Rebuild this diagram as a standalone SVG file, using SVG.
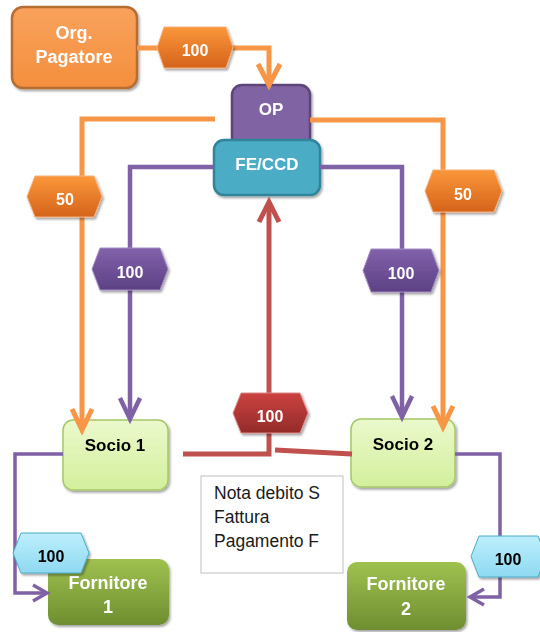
<svg xmlns="http://www.w3.org/2000/svg" width="540" height="632" viewBox="0 0 540 632">
<defs>
<linearGradient id="gOrg" x1="0" y1="0" x2="0" y2="1"><stop offset="0" stop-color="#F9A25C"/><stop offset="1" stop-color="#F48F3E"/></linearGradient>
<linearGradient id="gSocio" x1="0" y1="0" x2="0" y2="1"><stop offset="0" stop-color="#EBF9CC"/><stop offset="1" stop-color="#D3EF9C"/></linearGradient>
<linearGradient id="gForn" x1="0" y1="0" x2="0" y2="1"><stop offset="0" stop-color="#9FC14F"/><stop offset="1" stop-color="#6E8E30"/></linearGradient>
<linearGradient id="hOr" x1="0" y1="0" x2="0" y2="1"><stop offset="0" stop-color="#FA973A"/><stop offset="1" stop-color="#D5631B"/></linearGradient>
<linearGradient id="hPu" x1="0" y1="0" x2="0" y2="1"><stop offset="0" stop-color="#8261AA"/><stop offset="1" stop-color="#5C4184"/></linearGradient>
<linearGradient id="hRe" x1="0" y1="0" x2="0" y2="1"><stop offset="0" stop-color="#CB4240"/><stop offset="1" stop-color="#932B29"/></linearGradient>
<linearGradient id="hLb" x1="0" y1="0" x2="0" y2="1"><stop offset="0" stop-color="#BDEFFC"/><stop offset="1" stop-color="#8ED9F1"/></linearGradient>
<filter id="sh" x="-10%" y="-10%" width="130%" height="140%"><feDropShadow dx="1.5" dy="2" stdDeviation="1.2" flood-color="#000" flood-opacity="0.35"/></filter>
</defs>
<style>
.t{font-family:"Liberation Sans",Arial,sans-serif;font-weight:bold;text-anchor:middle}
.w{fill:#fff}
.k{fill:#000}
.ln{fill:none;stroke-linejoin:miter}
.or{stroke:#F79646;stroke-width:5}
.pu{stroke:#7F62A5;stroke-width:4.5}
.pu2{stroke:#7F62A5;stroke-width:3.5}
.re{stroke:#C0504D;stroke-width:5}
.nota{font-family:"Liberation Sans",Arial,sans-serif;font-size:17.5px;fill:#1a1a1a}
</style>

<g id="org-pagatore" filter="url(#sh)">
<rect x="12" y="7" width="125" height="81" rx="11" fill="url(#gOrg)" stroke="#B66D31" stroke-width="2.5"/>
<text class="t w" x="74" y="39" font-size="18">Org.</text>
<text class="t w" x="74" y="63" font-size="18">Pagatore</text>
</g>

<g id="op" filter="url(#sh)">
<rect x="232" y="85" width="78" height="70" rx="10" fill="#8064A2" stroke="#5C4479" stroke-width="2.5"/>
<text class="t w" x="271" y="115" font-size="17">OP</text>
</g>

<g id="fe-ccd" filter="url(#sh)">
<rect x="214" y="140" width="106" height="55" rx="10" fill="#4BACC6" stroke="#31849B" stroke-width="2.5"/>
<text class="t w" x="267" y="170" font-size="17">FE/CCD</text>
</g>

<g id="socio1" filter="url(#sh)">
<rect x="63" y="420" width="105" height="70" rx="10" fill="url(#gSocio)" stroke="#A5C86A" stroke-width="1.5"/>
<text class="t k" x="115" y="451" font-size="17">Socio 1</text>
</g>

<g id="socio2" filter="url(#sh)">
<rect x="351" y="419" width="104" height="68" rx="10" fill="url(#gSocio)" stroke="#A5C86A" stroke-width="1.5"/>
<text class="t k" x="403" y="450" font-size="17">Socio 2</text>
</g>

<g id="fornitore1" filter="url(#sh)">
<rect x="48" y="559" width="121" height="66" rx="10" fill="url(#gForn)"/>
<text class="t w" x="108" y="589" font-size="18">Fornitore</text>
<text class="t w" x="108" y="613" font-size="18">1</text>
</g>

<g id="fornitore2" filter="url(#sh)">
<rect x="347" y="562" width="119" height="68" rx="10" fill="url(#gForn)"/>
<text class="t w" x="406" y="590" font-size="18">Fornitore</text>
<text class="t w" x="406" y="615" font-size="18">2</text>
</g>

<g id="nota">
<rect x="201" y="476" width="142" height="97" fill="#fff" stroke="#BFBFBF" stroke-width="1"/>
<text class="nota" x="214" y="499">Nota debito S</text>
<text class="nota" x="214" y="523">Fattura</text>
<text class="nota" x="214" y="547">Pagamento F</text>
</g>

<g id="connectors">
<polyline class="ln or" points="137,48 269,48 269,84"/>
<polyline class="ln or" points="258,64 269,85 280,64"/>
<polyline class="ln or" points="215,119 82,119 82,429"/>
<polyline class="ln or" points="72,409 82,430 92,409"/>
<polyline class="ln or" points="310,120 443,120 443,426"/>
<polyline class="ln or" points="433,406 443,427 453,406"/>
<polyline class="ln pu" points="213,167 130,167 130,418"/>
<polyline class="ln pu" points="120,398 130,419 140,398"/>
<polyline class="ln pu" points="320,167 402,167 402,415"/>
<polyline class="ln pu" points="392,396 402,417 412,396"/>
<polyline class="ln pu2" points="63,454 15,454 15,593 46,593"/>
<polyline class="ln pu2" points="33,585 47,593 33,601"/>
<polyline class="ln pu2" points="455,454 500,454 500,597 471,597"/>
<polyline class="ln pu2" points="484,589 470,597 484,605"/>
<polyline class="ln re" points="183,454 269,454 269,204"/>
<polyline class="ln re" points="259,222 269,202 279,222"/>
<line class="ln re" x1="275" y1="450" x2="352" y2="454"/>

<g filter="url(#sh)">
<polygon points="157,47.5 164,27 226,27 233,47.5 226,68 164,68" fill="url(#hOr)" stroke="#F6B27C" stroke-width="1"/>
<text class="t w" x="195" y="56" font-size="16">100</text>
<polygon points="27,196.5 35,176 94,176 102,196.5 94,217 35,217" fill="url(#hOr)" stroke="#F6B27C" stroke-width="1"/>
<text class="t w" x="65" y="205" font-size="16">50</text>
<polygon points="425,191 433,170 494,170 502,191 494,212 433,212" fill="url(#hOr)" stroke="#F6B27C" stroke-width="1"/>
<text class="t w" x="463" y="200" font-size="16">50</text>
<polygon points="92,269 100,248 160,248 168,269 160,290 100,290" fill="url(#hPu)" stroke="#A38BC4" stroke-width="1"/>
<text class="t w" x="130" y="278" font-size="16">100</text>
<polygon points="363,270.5 371,249 431,249 439,270.5 431,292 371,292" fill="url(#hPu)" stroke="#A38BC4" stroke-width="1"/>
<text class="t w" x="401" y="279" font-size="16">100</text>
<polygon points="233,413 241,393 300,393 308,413 300,433 241,433" fill="url(#hRe)" stroke="#D98A88" stroke-width="1"/>
<text class="t w" x="270" y="422" font-size="16">100</text>
<polygon points="13,553 21,533 81,533 89,553 81,573 21,573" fill="url(#hLb)" stroke="#4BACC6" stroke-width="1"/>
<text class="t k" x="51" y="562" font-size="16">100</text>
<polygon points="471,556.5 479,536 538,536 546,556.5 538,577 479,577" fill="url(#hLb)" stroke="#4BACC6" stroke-width="1"/>
<text class="t k" x="508" y="565" font-size="16">100</text>
</g>
</g>
</svg>
